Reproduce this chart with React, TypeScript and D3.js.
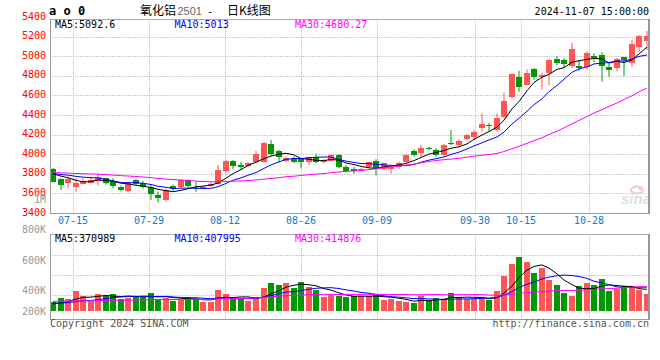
import React from 'react';
import * as d3 from 'd3';

const dates = [
  '07-10','07-11','07-12','07-15','07-16','07-17','07-18','07-19','07-22','07-23','07-24','07-25','07-26','07-29','07-30','07-31',
  '08-01','08-02','08-05','08-06','08-07','08-08','08-09','08-12','08-13','08-14','08-15','08-16','08-19','08-20','08-21','08-22','08-23','08-26','08-27','08-28','08-29','08-30',
  '09-02','09-03','09-04','09-05','09-06','09-09','09-10','09-11','09-12','09-13','09-18','09-19','09-20','09-23','09-24','09-25','09-26','09-27','09-30',
  '10-08','10-09','10-10','10-11','10-14','10-15','10-16','10-17','10-18','10-21','10-22','10-23','10-24','10-25','10-28','10-29','10-30','10-31',
  '11-01','11-04','11-05','11-06','11-07'
];

const opens = [
  3846,3744,3709,3662,3696,3709,3725,3754,3730,3668,
  3628,3737,3709,3668,3584,3533,3679,3668,3737,3660,
  3646,3673,3700,3826,3928,3887,3877,3917,3917,4104,
  4036,3930,3964,3948,3923,3968,3917,3934,3992,3866,
  3849,3832,3873,3934,3846,3846,3866,3923,4030,4009,
  4066,4043,3995,4117,4094,4155,4179,4264,4298,4247,
  4377,4587,4785,4706,4866,4791,4832,4968,4961,4900,
  4900,4893,5000,5010,4893,4876,4989,4927,5091,5158
];
const highs = [
  3860,3754,3770,3754,3754,3771,3800,3760,3754,3680,
  3720,3750,3730,3690,3620,3650,3690,3745,3745,3719,
  3680,3710,3890,3940,3940,3920,3920,4036,4127,4145,
  4045,3975,3975,3960,3975,4005,3950,4000,4000,3890,
  3870,3860,3925,3950,3915,3885,3925,4000,4050,4094,
  4075,4060,4105,4247,4150,4205,4245,4417,4320,4417,
  4628,4825,4852,4866,4880,4830,4970,5000,4980,5135,
  4960,5050,5030,5040,4935,4980,4990,5170,5216,5257
];
const lows = [
  3712,3635,3655,3617,3690,3700,3680,3690,3652,3620,
  3610,3685,3650,3533,3509,3516,3625,3655,3660,3617,
  3640,3665,3690,3815,3850,3840,3870,3907,3910,3984,
  3917,3920,3910,3856,3890,3907,3905,3925,3860,3815,
  3800,3830,3860,3783,3840,3802,3850,3915,3975,3968,
  4040,3975,3975,4094,4070,4145,4140,4230,4230,4230,
  4360,4570,4638,4706,4760,4662,4706,4910,4880,4880,
  4850,4860,4940,4740,4790,4845,4798,4890,5046,5063
];
const closes = [
  3719,3686,3744,3709,3730,3737,3770,3703,3676,3635,
  3703,3696,3668,3591,3550,3635,3642,3737,3679,3646,
  3666,3700,3836,3928,3877,3873,3913,4002,4111,4002,
  3974,3960,3917,3923,3968,3917,3941,3992,3873,3832,
  3832,3849,3917,3846,3907,3873,3913,3992,3990,4060,
  4050,3992,4094,4108,4135,4196,4230,4308,4285,4366,
  4540,4815,4683,4832,4791,4808,4961,4934,4920,5073,
  4880,5030,4985,4900,4862,4968,4961,5120,5205,5210
];
const volumes = [
  154000,222000,199000,336000,256000,177000,285000,268000,291000,211000,
  222000,251000,245000,302000,199000,228000,177000,194000,234000,211000,
  148000,160000,359000,285000,199000,199000,165000,239000,393000,479000,
  450000,479000,399000,496000,416000,365000,239000,268000,256000,245000,
  251000,251000,251000,285000,182000,211000,165000,148000,131000,256000,
  177000,222000,211000,302000,239000,211000,205000,205000,188000,336000,
  603000,800000,930000,832000,644000,735000,524000,439000,302000,262000,
  422000,479000,445000,540000,342000,370000,422000,422000,353000,285000
];

// closes and volumes of the 29 sessions before the first visible one (for the moving averages)
const priorCloses = [
  3790,3812,3835,3808,3796,3822,3845,3830,3806,3818,
  3841,3826,3799,3787,3803,3829,3850,3838,3815,3801,
  3796,3812,3830,3808,3790,3805,3826,3842,3809
];
const priorVolumes = [
  195000,170000,210000,188000,165000,176000,201000,190000,172000,160000,
  185000,198000,176000,169000,183000,192000,175000,180000,186000,179000,
  152000,138000,145000,130000,135000,118000,105000,112000,111000
];

const tickDates = ['07-15','07-29','08-12','08-26','09-09','09-30','10-15','10-28'];
const priceTicks = [5400,5200,5000,4800,4600,4400,4200,4000,3800,3600,3400];
const volumeTicks = [1000000,800000,600000,400000,200000];
const maPeriods = [5, 10, 30];
const priceMaLabels = ['MA5:5092.6','MA10:5013','MA30:4680.27'];
const volumeMaLabels = ['MA5:370989','MA10:407995','MA30:414876'];

const MA_COLORS = ['#000000', '#0000ff', '#ff00ff'];
const UP = '#ff5555';
const DOWN = '#009900';
const MONO = '"DejaVu Sans Mono", "Liberation Mono", monospace';
const CJK = '"Noto Sans CJK SC", "Noto Sans", sans-serif';

const L = 50, R = 650;
const P_TOP = 19, P_BOT = 213;
const V_TOP = 234, V_BOT = 319, V_BASE = 311;

function movingAvg(prior: number[], vals: number[], n: number): number[] {
  const all = prior.concat(vals);
  return vals.map((_, i) => d3.mean(all.slice(prior.length + i - n + 1, prior.length + i + 1)) as number);
}

function fmtVol(v: number) {
  return v >= 1000000 ? `${v / 1000000}M` : `${v / 1000}K`;
}

export default function App() {
  const x = d3.scaleBand<string>().domain(dates).range([L, R]).paddingInner(0.2).paddingOuter(0);
  const xg = d3.scalePoint<string>().domain(dates).range([L, R]);
  const yP = d3.scaleLinear().domain([3400, 5400]).range([P_BOT, 17]);
  const yV = d3.scaleLinear().domain([0, 1000000]).range([V_BASE, V_BASE - 58.5]);
  const yVLabel = d3.scaleLinear().domain([0, 1000000]).range([355, 203]);

  const x0 = (i: number) => Math.round(x(dates[i]) as number);
  const cx = (i: number) => x0(i) + 2.5;
  const bw = 6;

  const priceMAs = maPeriods.map(n => movingAvg(priorCloses, closes, n));
  const volMAs = maPeriods.map(n => movingAvg(priorVolumes, volumes, n));

  const pLine = d3.line<number>().x((_, i) => cx(i) + 0.5).y(v => yP(v));
  const vLine = d3.line<number>().x((_, i) => cx(i) + 0.5).y(v => yV(v));

  const gridColor = '#b4b4b4';
  const dash = '1,1.3';
  const hGridPrice = priceTicks.filter(t => t > 3400 && t < 5400);
  const vGridVol = d3.range(1, 4).map(k => V_TOP + 1.5 + 20 * k);

  return (
    <svg width={660} height={360} style={{ position: 'absolute', left: 0, top: 0, background: '#fff' }}>
      {/* header */}
      <text x={49} y={15} fontFamily={MONO} fontWeight="bold" fontSize={12} fill="#000">a o 0</text>
      <text x={140} y={14.5} fontFamily={CJK} fontSize={12} fill="#000">氧化铝</text>
      <text x={177.5} y={14.5} fontFamily={'"Liberation Sans", Arial, sans-serif'} fontSize={11} fill="#666">2501</text>
      <text x={207} y={14.5} fontFamily={MONO} fontSize={10} fill="#000">-</text>
      <text x={227} y={14.5} fontFamily={CJK} fontSize={12} fill="#000">日K线图</text>
      <text x={649} y={15} textAnchor="end" fontFamily={MONO} fontSize={10} fill="#000">2024-11-07 15:00:00</text>

      {/* price grid */}
      {hGridPrice.map(t => {
        const y = Math.round(yP(t)) + 0.5;
        return <line key={'hp' + t} x1={L} x2={R} y1={y} y2={y} stroke={gridColor} strokeDasharray={dash} />;
      })}
      {tickDates.map(d => {
        const gx = Math.round(xg(d) as number) + 0.5;
        return (
          <g key={'vg' + d}>
            <line x1={gx} x2={gx} y1={P_TOP} y2={P_BOT} stroke={gridColor} strokeDasharray={dash} />
            <line x1={gx} x2={gx} y1={V_TOP} y2={V_BOT} stroke={gridColor} strokeDasharray={dash} />
          </g>
        );
      })}
      {vGridVol.map(y => (
        <line key={'hv' + y} x1={L} x2={R} y1={y} y2={y} stroke={gridColor} strokeDasharray={dash} />
      ))}

      {/* sina watermark */}
      <g opacity={0.9}>
        <ellipse cx={637} cy={190} rx={6} ry={3.5} fill="none" stroke="#f4c4c4" strokeWidth={2} />
        <circle cx={640} cy={189} r={1.5} fill="#f4c4c4" />
        <text x={636} y={204} textAnchor="middle" fontFamily={'"Liberation Sans", Arial, sans-serif'} fontStyle="italic" fontWeight="bold" fontSize={15} fill="#dcdcdc">sina</text>
      </g>

      {/* candles */}
      {dates.map((d, i) => {
        const up = closes[i] >= opens[i];
        const c = up ? UP : DOWN;
        const top = Math.round(yP(Math.max(opens[i], closes[i])));
        const bot = Math.round(yP(Math.min(opens[i], closes[i])));
        return (
          <g key={'c' + d}>
            <line x1={cx(i) + 0.5} x2={cx(i) + 0.5} y1={yP(highs[i])} y2={yP(lows[i])} stroke={c} strokeWidth={1} />
            <rect x={x0(i)} y={top} width={bw} height={Math.max(1, bot - top)} fill={c} />
          </g>
        );
      })}
      {priceMAs.map((m, k) => (
        <path key={'pm' + k} d={pLine(m) as string} fill="none" stroke={MA_COLORS[k]} strokeWidth={1} />
      ))}

      {/* price frame */}
      <line x1={L} x2={R} y1={P_TOP + 0.5} y2={P_TOP + 0.5} stroke="#aaa" />
      <line x1={L + 0.5} x2={L + 0.5} y1={P_TOP} y2={P_BOT} stroke="#999" />
      <line x1={L} x2={R} y1={P_BOT + 0.5} y2={P_BOT + 0.5} stroke="#999" />
      <line x1={R - 1} x2={R - 1} y1={P_TOP} y2={P_BOT + 1} stroke="#999" strokeWidth={2} />

      {/* price legend */}
      {priceMaLabels.map((s, k) => (
        <text key={'pl' + k} x={[55, 174.5, 295][k]} y={27.5} fontFamily={MONO} fontSize={10} fill={MA_COLORS[k]}>{s}</text>
      ))}

      {/* price axis labels */}
      {priceTicks.map(t => (
        <text key={'pt' + t} x={46} y={yP(t) + 2.5} textAnchor="end" fontFamily={MONO} fontSize={10} fill="#ff0000">{t}</text>
      ))}

      {/* date labels */}
      {tickDates.map(d => (
        <text key={'dl' + d} x={Math.round(xg(d) as number)} y={224} textAnchor="middle" fontFamily={MONO} fontSize={10} fill="#0a7ad0">{d}</text>
      ))}

      {/* volume bars */}
      {dates.map((d, i) => {
        const up = closes[i] >= opens[i];
        const top = Math.round(yV(volumes[i]));
        return <rect key={'v' + d} x={x0(i)} y={top} width={bw} height={V_BASE - top} fill={up ? UP : DOWN} />;
      })}
      {volMAs.map((m, k) => (
        <path key={'vm' + k} d={vLine(m) as string} fill="none" stroke={MA_COLORS[k]} strokeWidth={1} />
      ))}

      {/* volume frame */}
      <line x1={L} x2={R} y1={V_TOP + 0.5} y2={V_TOP + 0.5} stroke="#aaa" />
      <line x1={L + 0.5} x2={L + 0.5} y1={V_TOP} y2={V_BOT} stroke="#999" />
      <line x1={L} x2={R} y1={V_BOT + 0.5} y2={V_BOT + 0.5} stroke="#999" />
      <line x1={R - 1} x2={R - 1} y1={V_TOP} y2={V_BOT + 1} stroke="#999" strokeWidth={2} />

      {/* volume legend */}
      {volumeMaLabels.map((s, k) => (
        <text key={'vl' + k} x={[55, 174.5, 295][k]} y={241.5} fontFamily={MONO} fontSize={10} fill={MA_COLORS[k]}>{s}</text>
      ))}

      {/* volume axis labels */}
      {volumeTicks.map(t => (
        <text key={'vt' + t} x={46} y={Math.min(yVLabel(t), 314.5)} textAnchor="end" fontFamily={MONO} fontSize={10} fill="#999">{fmtVol(t)}</text>
      ))}

      {/* footer */}
      <text x={50} y={327} fontFamily={MONO} fontSize={10} fill="#555">Copyright 2024 SINA.COM</text>
      <text x={649} y={327} textAnchor="end" fontFamily={MONO} fontSize={10} fill="#555">http://finance.sina.com.cn</text>
    </svg>
  );
}
